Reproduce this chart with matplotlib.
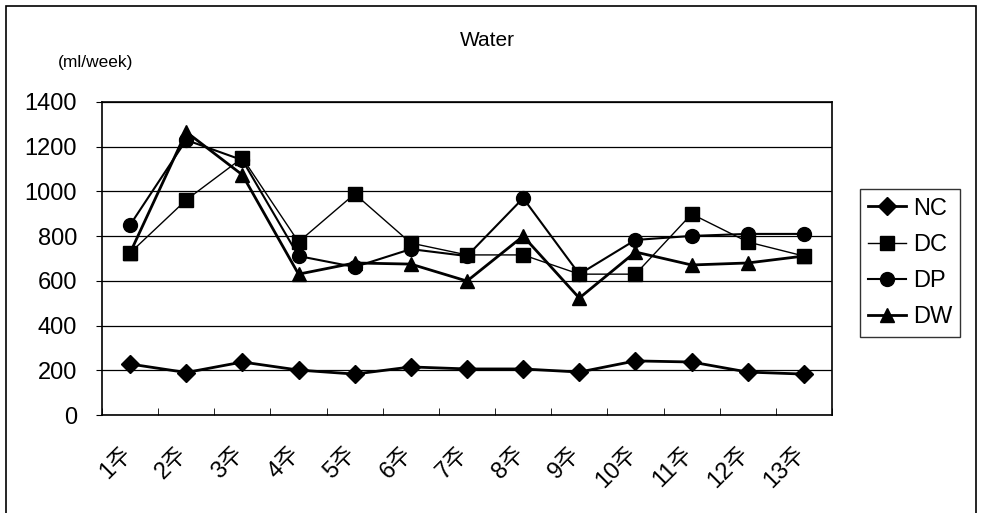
import matplotlib
matplotlib.use("Agg")
import matplotlib.pyplot as plt
from matplotlib.patches import Rectangle
import matplotlib.transforms as mtransforms
import numpy as np

plt.rcParams['font.family'] = ['Liberation Sans', 'Noto Sans CJK KR', 'DejaVu Sans']

weeks = ["1주", "2주", "3주", "4주", "5주", "6주", "7주", "8주", "9주", "10주", "11주", "12주", "13주"]
nc = [228, 190, 237, 201, 183, 215, 206, 206, 192, 242, 237, 192, 183]
dc = [725, 962, 1150, 774, 989, 769, 716, 716, 630, 630, 899, 774, 711]
dp = [850, 1230, 1140, 711, 662, 742, 711, 970, 630, 783, 801, 810, 810]
dw = [725, 1266, 1074, 630, 680, 675, 599, 800, 523, 729, 671, 680, 711]
series = [("NC", nc, "D", 2.0, 9.5), ("DC", dc, "s", 1.0, 9.5), ("DP", dp, "o", 1.5, 10), ("DW", dw, "^", 2.0, 10.5)]
yticks = [0, 200, 400, 600, 800, 1000, 1200, 1400]

W, H = 984, 513
fig = plt.figure(figsize=(W / 100, H / 100), dpi=100)
fig.patches.append(Rectangle((6 / W, -0.05), 970 / W, 1.05 - 6 / H, transform=fig.transFigure,
                             fill=False, edgecolor='black', linewidth=1.2))

ax = fig.add_axes([102 / W, (H - 415) / H, 730 / W, 313 / H])
x = np.arange(len(weeks))
handles = []
for name, vals, mk, lw, ms in series:
    h, = ax.plot(x, vals, color='black', marker=mk, linewidth=lw, markersize=ms, label=name)
    handles.append(h)

ax.set_xlim(-0.5, len(weeks) - 0.5)
ax.set_ylim(0, 1400)
ax.set_yticks(yticks)
ax.set_yticklabels([str(v) for v in yticks], fontsize=17)
ax.yaxis.grid(True, color='black', linewidth=0.9)
ax.set_axisbelow(True)
ax.set_xticks(x)
ax.set_xticklabels(weeks, rotation=45, ha='right', va='top', rotation_mode='anchor', fontsize=17)
ax.tick_params(axis='x', length=0, pad=20)
offset = mtransforms.ScaledTranslation(-10 / 100, 0, fig.dpi_scale_trans)
for lab in ax.get_xticklabels():
    lab.set_transform(lab.get_transform() + offset)
ax.set_xticks(np.arange(-0.5, len(weeks)), minor=True)
ax.tick_params(axis='x', which='minor', direction='in', length=5)
ax.tick_params(axis='y', direction='out', length=4, pad=14)
for s in ax.spines.values():
    s.set_linewidth(1.2)

fig.text(487 / W, 1 - 41 / H, "Water", ha='center', va='center', fontsize=15)
fig.text(96 / W, 1 - 62 / H, "(ml/week)", ha='center', va='center', fontsize=12.5)

leg = fig.legend(handles=handles, loc='center', bbox_to_anchor=(910 / W, 1 - 263 / H),
                 fontsize=17, frameon=True, fancybox=False, edgecolor='black',
                 handlelength=1.6, labelspacing=0.6, borderpad=0.35, handletextpad=0.3)
leg.get_frame().set_linewidth(1.0)

fig.savefig("out.png", dpi=100)
